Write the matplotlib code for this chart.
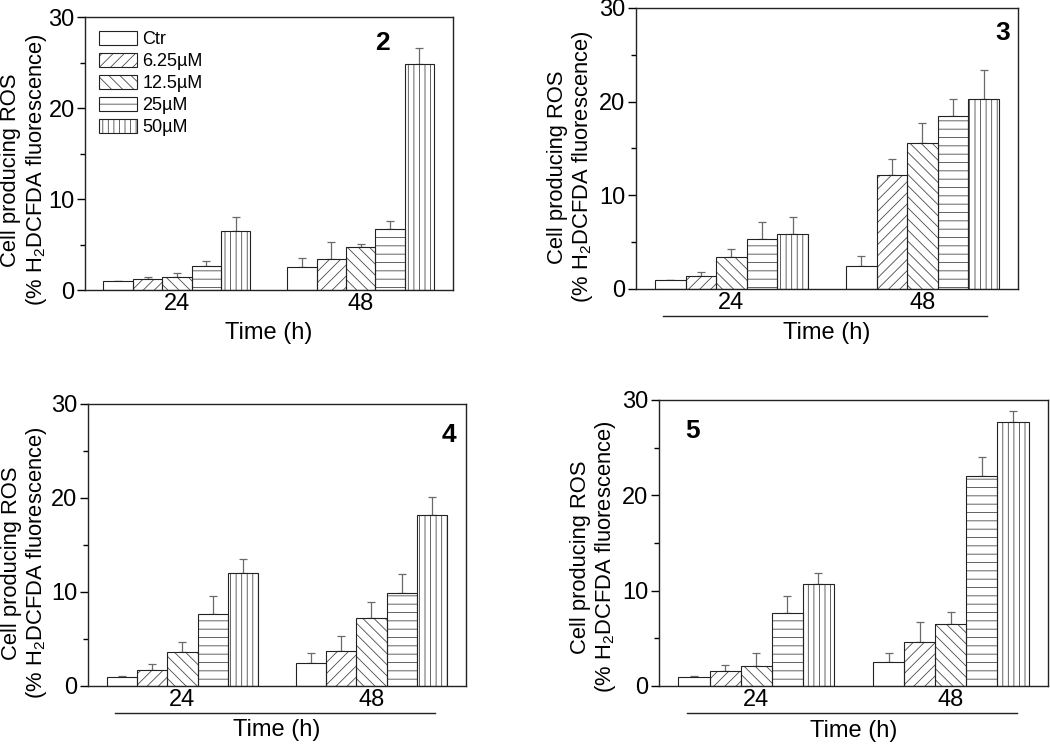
import numpy as np
import matplotlib.pyplot as plt
from matplotlib.legend_handler import HandlerTuple
from matplotlib.ticker import MultipleLocator

plt.rcParams['font.family'] = ['Liberation Sans', 'DejaVu Sans']
plt.rcParams['mathtext.default'] = 'regular'
plt.rcParams['hatch.linewidth'] = 0.6

# ==========================================
# Data, rows = time point, cols = dose
# ==========================================
times = ['24', '48']
doses = ['Ctr', '6.25µM', '12.5µM', '25µM', '50µM']
hatches = ['', '///', '\\\\\\', '--', '|||']

ros_2 = [[1.0, 1.2, 1.5, 2.6, 6.5],
         [2.5, 3.4, 4.7, 6.7, 24.9]]
err_2 = [[0.05, 0.3, 0.4, 0.6, 1.5],
         [1.0, 1.9, 0.4, 0.9, 1.7]]

ros_3 = [[0.95, 1.4, 3.4, 5.3, 5.9],
         [2.5, 12.2, 15.6, 18.5, 20.3]]
err_3 = [[0.05, 0.4, 0.9, 1.9, 1.8],
         [1.0, 1.7, 2.1, 1.8, 3.1]]

ros_4 = [[0.95, 1.7, 3.6, 7.7, 12.0],
         [2.45, 3.7, 7.2, 9.9, 18.2]]
err_4 = [[0.1, 0.6, 1.1, 1.9, 1.5],
         [1.05, 1.6, 1.7, 2.0, 1.9]]

ros_5 = [[0.95, 1.6, 2.1, 7.7, 10.7],
         [2.5, 4.6, 6.55, 22.0, 27.65]]
err_5 = [[0.1, 0.6, 1.4, 1.7, 1.1],
         [1.0, 2.1, 1.25, 2.0, 1.15]]

BAR_W = 0.16
FS = 17
FS_Y = 15.8
YLABEL = 'Cell producing ROS\n(% H$_2$DCFDA fluorescence)'


def draw_panel(ax, vals, errs, tag, tag_xy, ylab_xy, underline=None):
    x = np.arange(len(times))
    handles = []
    for i in range(len(doses)):
        xs = x + (i - 2) * BAR_W
        h = [vals[t][i] for t in range(len(times))]
        e = [errs[t][i] for t in range(len(times))]
        ax.errorbar(xs, h, yerr=[np.zeros(len(h)), e], fmt='none',
                    ecolor='#6a6a6a', elinewidth=0.9, capsize=3, capthick=0.9, zorder=1)
        fill = ax.bar(xs, h, BAR_W, color='white', edgecolor='#4a4a4a',
                      hatch=hatches[i], linewidth=0, zorder=2)
        edge = ax.bar(xs, h, BAR_W, fill=False, edgecolor='#222222',
                      linewidth=0.8, zorder=3)
        handles.append((fill[0], edge[0]))

    ax.set_xlim(-0.5, 1.5)
    ax.set_ylim(0, 30)
    ax.set_xticks(x, times)
    ax.set_yticks([0, 10, 20, 30])
    ax.yaxis.set_minor_locator(MultipleLocator(5))
    ax.tick_params(axis='x', length=0, pad=2, labelsize=FS)
    ax.tick_params(axis='y', which='major', direction='out', length=6, width=1, pad=1.5, labelsize=FS)
    ax.tick_params(axis='y', which='minor', direction='out', length=3.5, width=1)
    for s in ax.spines.values():
        s.set_linewidth(1.0)
        s.set_color('#222222')

    ax.set_xlabel('Time (h)', fontsize=FS, va='center')
    ax.xaxis.set_label_coords(0.5, -44 / 282)
    ax.set_ylabel(YLABEL, fontsize=FS_Y, ha='center', va='center', linespacing=1.15)
    ax.yaxis.set_label_coords(*ylab_xy)

    ax.text(tag_xy[0], tag_xy[1], tag, transform=ax.transAxes, fontsize=19,
            fontweight='bold', ha='center', va='center')

    if underline is not None:
        x0, x1, yy = underline
        ax.plot([x0, x1], [yy, yy], transform=ax.transAxes, color='#222222',
                lw=1.0, clip_on=False)
    return handles


fig = plt.figure(figsize=(10.5, 7.44), dpi=100)

ax2 = fig.add_axes([0.081, 0.610, 0.350, 0.367])
ax3 = fig.add_axes([0.6057, 0.6116, 0.3638, 0.3777])
ax4 = fig.add_axes([0.0838, 0.078, 0.360, 0.379])
ax5 = fig.add_axes([0.6276, 0.078, 0.3705, 0.3844])

h = draw_panel(ax2, ros_2, err_2, '2', (0.81, 0.905), (-0.165, 0.44))
draw_panel(ax3, ros_3, err_3, '3', (0.961, 0.911), (-0.170, 0.434), (0.071, 0.919, -0.096))
draw_panel(ax4, ros_4, err_4, '4', (0.955, 0.89), (-0.167, 0.436), (0.071, 0.918, -0.096))
draw_panel(ax5, ros_5, err_5, '5', (0.085, 0.892), (-0.167, 0.451), (0.072, 0.920, -0.094))

ax2.legend(h, doses, handler_map={tuple: HandlerTuple(ndivide=1)},
           loc='upper left', bbox_to_anchor=(0.038, 0.949), frameon=False,
           fontsize=13, borderpad=0, borderaxespad=0, handlelength=2.1,
           handleheight=0.85, labelspacing=0.25, handletextpad=0.3)

fig.savefig('out.png', dpi=100)
